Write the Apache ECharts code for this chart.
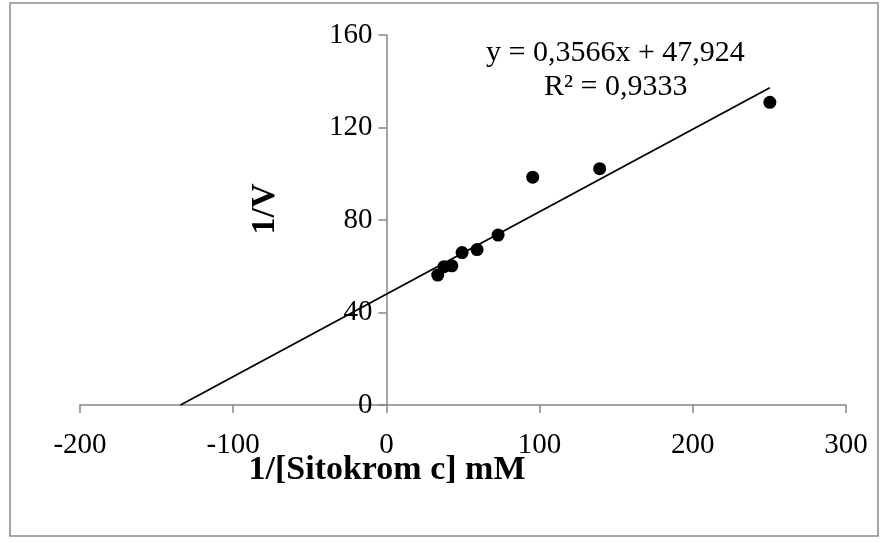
<!DOCTYPE html>
<html>
<head>
<meta charset="utf-8">
<script src="https://cdn.jsdelivr.net/npm/echarts@6/dist/echarts.min.js"></script>
<style>
html,body{margin:0;padding:0;background:#fff;}
#chart{width:889px;height:543px;}
</style>
</head>
<body>
<div id="chart"></div>
<script>
// Data
var xValues = [33.5, 37.6, 42.7, 49.4, 59.2, 72.9, 95.5, 139.2, 250.3];
var yValues = [56.2, 59.8, 60.2, 65.9, 67.2, 73.5, 98.5, 102.2, 130.9];
var trendX = [-134.4, 250.3];
var trendY = [0, 137.2];
var xTicks = [-200, -100, 0, 100, 200, 300];
var yTicks = [0, 40, 80, 120, 160];
var equationText = 'y = 0,3566x + 47,924';
var r2Text = 'R\u00B2 = 0,9333';
var xTitle = '1/[Sitokrom c] mM';
var yTitle = '1/V';

var points = xValues.map(function(x, i){ return [x, yValues[i]]; });
var trend = trendX.map(function(x, i){ return [x, trendY[i]]; });

var FONT = '"Liberation Serif", "Times New Roman", serif';
var AXIS_COLOR = '#868686';
var GRID = {left: 80, right: 43, top: 35, bottom: 138};
var plotWidth = 889 - GRID.left - GRID.right;
var xMin = xTicks[0], xMax = xTicks[xTicks.length - 1];
// shift the y axis (line + labels) to x = 0 of the x axis
var yAxisOffset = -plotWidth * (0 - xMin) / (xMax - xMin);

var chart = echarts.init(document.getElementById('chart'), null, {renderer: 'canvas'});
chart.setOption({
  animation: false,
  backgroundColor: '#ffffff',
  grid: {left: GRID.left, right: GRID.right, top: GRID.top, bottom: GRID.bottom, containLabel: false},
  xAxis: {
    type: 'value',
    min: xMin, max: xMax, interval: 100,
    axisLine: {show: true, onZero: true, lineStyle: {color: AXIS_COLOR, width: 1.5}},
    axisTick: {show: true, inside: false, length: 8, lineStyle: {color: AXIS_COLOR, width: 1.5}},
    axisLabel: {color: '#000', fontFamily: FONT, fontSize: 29, margin: 26},
    splitLine: {show: false}
  },
  yAxis: {
    type: 'value',
    position: 'left',
    offset: yAxisOffset,
    min: yTicks[0], max: yTicks[yTicks.length - 1], interval: 40,
    axisLine: {show: true, onZero: false, lineStyle: {color: AXIS_COLOR, width: 1.5}},
    axisTick: {show: true, inside: false, length: 8, lineStyle: {color: AXIS_COLOR, width: 1.5}},
    axisLabel: {color: '#000', fontFamily: FONT, fontSize: 29, margin: 14},
    splitLine: {show: false}
  },
  series: [
    {
      type: 'line',
      data: trend,
      showSymbol: false,
      symbol: 'none',
      lineStyle: {color: '#000', width: 1.8},
      z: 2
    },
    {
      type: 'scatter',
      data: points,
      symbol: 'circle',
      symbolSize: 13,
      itemStyle: {color: '#000', opacity: 1},
      z: 3
    }
  ],
  graphic: [
    {type: 'rect', shape: {x: 10, y: 3, width: 868, height: 533}, style: {fill: 'none', stroke: '#8c8c8c', lineWidth: 1.5}, z: 0},
    {type: 'text', left: 486, top: 38, style: {text: equationText, font: '30px ' + FONT, fill: '#000'}},
    {type: 'text', left: 544, top: 72, style: {text: r2Text, font: '30px ' + FONT, fill: '#000'}},
    {type: 'text', x: 387, y: 470, style: {text: xTitle, font: 'bold 34px ' + FONT, fill: '#000', align: 'center', verticalAlign: 'middle'}},
    {type: 'text', x: 265, y: 209, rotation: Math.PI / 2, style: {text: yTitle, font: 'bold 34px ' + FONT, fill: '#000', align: 'center', verticalAlign: 'middle'}}
  ]
});
</script>
</body>
</html>
